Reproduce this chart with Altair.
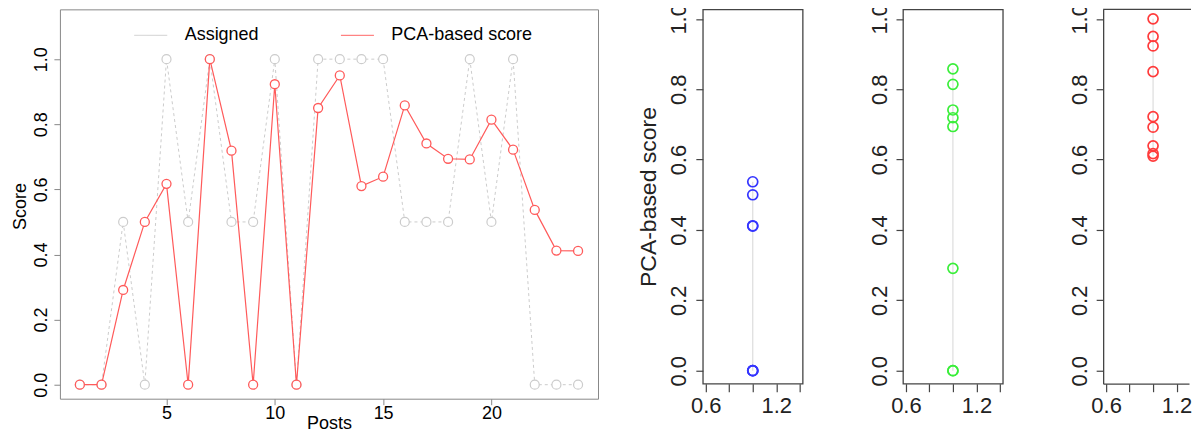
import altair as alt
import pandas as pd

# ---------------- data ----------------
posts = list(range(1, 25))
assigned = [0, 0, 0.5, 0, 1, 0.5, 1, 0.5, 0.5, 1, 0, 1,
            1, 1, 1, 0.5, 0.5, 0.5, 1, 0.5, 1, 0, 0, 0]
pca_score = [0, 0, 0.291, 0.50, 0.617, 0, 1.0, 0.719, 0, 0.923, 0, 0.850,
             0.950, 0.610, 0.639, 0.858, 0.741, 0.694, 0.692, 0.814, 0.722, 0.537, 0.412, 0.411]
series_names = ["Assigned", "PCA-based score"]
group_levels = [0, 0.5, 1]
group_colors = ["#3535FF", "#3AEE3A", "#FF3B3B"]
x_ticks_left = [5, 10, 15, 20]
y_ticks = [0, 0.2, 0.4, 0.6, 0.8, 1.0]
strip_ticks = [0.6, 0.8, 1.0, 1.2, 1.4]

FONT = "Liberation Sans"
GRAY = "#CCCCCC"
RED = "#FF5A5A"
FRAME = "#444444"

long_df = pd.DataFrame({
    "post": posts * 2,
    "score": assigned + pca_score,
    "series": [series_names[0]] * len(posts) + [series_names[1]] * len(posts),
})

group_df = pd.DataFrame({"assigned": assigned, "pca": pca_score, "pos": [1.0] * len(posts)})

# ---------------- left chart ----------------
LW, LH = 539, 390

x_left = alt.X("post:Q",
               scale=alt.Scale(domain=[0.08, 24.92], nice=False, zero=False),
               axis=alt.Axis(values=x_ticks_left, title="Posts", grid=False, domain=False,
                             tickSize=6, tickColor="#888888", labelFont=FONT, labelFontSize=18,
                             labelColor="#000000", labelBaseline="alphabetic", labelPadding=14,
                             labelFlush=False, labelOverlap=False,
                             titleFont=FONT, titleFontSize=18, titleFontWeight="normal",
                             titleColor="#000000", titleBaseline="alphabetic",
                             titleX=LW / 2, titleY=30))
y_left = alt.Y("score:Q",
               scale=alt.Scale(domain=[-0.043, 1.153], nice=False, zero=False),
               axis=alt.Axis(values=y_ticks, format=".1f", title="Score", grid=False, domain=False,
                             tickSize=6, tickColor="#888888", labelFont=FONT, labelFontSize=18,
                             labelColor="#000000", labelAngle=-90, labelAlign="center",
                             labelBaseline="alphabetic", labelPadding=7,
                             labelFlush=False, labelOverlap=False,
                             titleFont=FONT, titleFontSize=18, titleFontWeight="normal",
                             titleColor="#000000", titleAngle=-90, titleAlign="center",
                             titleBaseline="alphabetic", titleX=-34, titleY=197))
color_enc = alt.Color("series:N",
                      scale=alt.Scale(domain=series_names, range=[GRAY, RED]),
                      legend=alt.Legend(orient="none", legendX=74, legendY=9,
                                        direction="horizontal", title=None,
                                        symbolType="stroke", symbolSize=1089,
                                        symbolStrokeWidth=1, symbolDash=[1, 0],
                                        labelFont=FONT, labelFontSize=18, labelColor="#000000",
                                        labelOffset=17, columnPadding=79, padding=0))

base = alt.Chart(long_df)
assigned_base = base.transform_filter(alt.datum.series == series_names[0])
pca_base = base.transform_filter(alt.datum.series == series_names[1])

gray_line = assigned_base.mark_line(strokeDash=[3, 3], strokeWidth=1).encode(
    x=x_left, y=y_left, color=color_enc)
gray_pts = assigned_base.mark_point(shape="circle", size=81, fill="white", fillOpacity=1,
                                    stroke=GRAY, strokeWidth=1.2, opacity=1).encode(x=x_left, y=y_left)
red_line = pca_base.mark_line(strokeWidth=1.2).encode(x=x_left, y=y_left, color=color_enc)
red_pts = pca_base.mark_point(shape="circle", size=81, fill="white", fillOpacity=1,
                              stroke=RED, strokeWidth=1.3, opacity=1).encode(x=x_left, y=y_left)

left = alt.layer(gray_line, gray_pts, red_line, red_pts).properties(
    width=LW, height=LH, view=alt.ViewBackground(stroke="#888888", strokeWidth=1))

# ---------------- strip panels ----------------
RH = 375


def strip(level, color, title, width, xmax, ticks, open_right=False):
    sub = alt.Chart(group_df).transform_filter(alt.datum.assigned == level)
    xs = alt.X("pos:Q",
               scale=alt.Scale(domain=[0.575, xmax], nice=False, zero=False),
               axis=alt.Axis(values=ticks, title=None, grid=False, domain=open_right,
                             domainColor=FRAME, domainWidth=1.3,
                             tickSize=8, tickColor=FRAME, tickWidth=1.2,
                             labelExpr="abs(datum.value-0.6)<0.01 || abs(datum.value-1.2)<0.01 ? format(datum.value, '.1f') : ''",
                             labelFont=FONT, labelFontSize=22, labelColor="#222222",
                             labelBaseline="alphabetic", labelPadding=20.5, labelAngle=0,
                             labelFlush=False, labelOverlap=False))
    yaxis_kw = dict(values=y_ticks, format=".1f", grid=False, domain=open_right,
                    domainColor=FRAME, domainWidth=1.3,
                    tickSize=7, tickColor=FRAME, tickWidth=1.2,
                    labelFont=FONT, labelFontSize=22, labelColor="#222222",
                    labelAngle=-90, labelAlign="center", labelBaseline="alphabetic",
                    labelPadding=10, labelFlush=False, labelOverlap=False)
    if title:
        yaxis_kw.update(title=title, titleFont=FONT, titleFontSize=23, titleFontWeight="normal",
                        titleColor="#222222", titleAngle=-90, titleAlign="center",
                        titleBaseline="alphabetic", titleX=-47, titleY=RH / 2)
    else:
        yaxis_kw.update(title=None)
    yscale = alt.Scale(domain=[-0.037, 1.027], nice=False, zero=False)
    rule = sub.mark_rule(color="#DDDDDD", strokeWidth=1.2).encode(
        x=xs,
        y=alt.Y("min(pca):Q", scale=yscale, axis=alt.Axis(**yaxis_kw)),
        y2="max(pca):Q")
    pts = sub.mark_point(shape="circle", size=100, filled=False, color=color,
                         strokeWidth=1.7, opacity=1).encode(
        x=xs, y=alt.Y("pca:Q", scale=yscale))
    layers = [rule, pts]
    if open_right:
        top_edge = sub.transform_aggregate(n="count()").mark_rule(
            color=FRAME, strokeWidth=1.3).encode(
            x=alt.value(0), x2=alt.value(width + 2), y=alt.value(0))
        layers.append(top_edge)
        view = alt.ViewBackground(stroke="transparent")
    else:
        view = alt.ViewBackground(stroke=FRAME, strokeWidth=1.3)
    return alt.layer(*layers).properties(width=width, height=RH, view=view)


p1 = strip(group_levels[0], group_colors[0], "PCA-based score", 100, 1.425, strip_ticks)
p2 = strip(group_levels[1], group_colors[1], None, 100, 1.425, strip_ticks)
p3 = strip(group_levels[2], group_colors[2], None, 86, 1.306, strip_ticks[:4], open_right=True)

right = alt.hconcat(p1, p2, p3, spacing=100.5, bounds="flush")

chart = alt.hconcat(left, right, spacing=105, bounds="flush").properties(
    padding={"left": 3, "top": -6, "right": 0, "bottom": -1}
).configure(font=FONT)

chart.save("out.html", embed_options={"renderer": "svg", "actions": False})
